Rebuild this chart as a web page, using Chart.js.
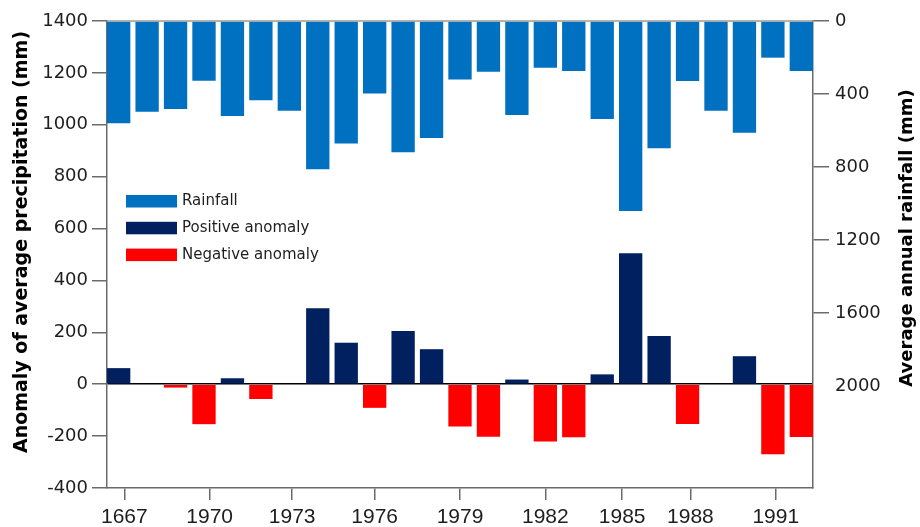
<!DOCTYPE html>
<html>
<head>
<meta charset="utf-8">
<script src="https://cdn.jsdelivr.net/npm/chart.js@4.4.1/dist/chart.umd.min.js"></script>
<style>
  html, body { margin: 0; padding: 0; background: #ffffff; }
  #wrap { width: 920px; height: 527px; }
</style>
</head>
<body>
<div id="wrap"><canvas id="chart" width="920" height="527"></canvas></div>
<script>
// Annual series, one entry per year
const years = [1967, 1968, 1969, 1970, 1971, 1972, 1973, 1974, 1975, 1976, 1977, 1978, 1979,
               1980, 1981, 1982, 1983, 1984, 1985, 1986, 1987, 1988, 1989, 1990, 1991];
// Average annual rainfall (mm), right axis
const rainfall = [561, 497, 482, 327, 521, 435, 492, 813, 671, 398, 720, 641, 320,
                  278, 515, 256, 274, 537, 1042, 698, 329, 492, 612, 201, 274];
// Anomaly of average precipitation (mm), left axis
const anomaly = [62, 0, -13, -154, 23, -57, 0, 293, 160, -91, 205, 135, -163,
                 -202, 18, -221, -204, 38, 505, 186, -153, 0, 108, -270, -203];

// Year-axis ticks and their labels
const tickYears = [1967.2, 1970.2, 1973.1, 1976.0, 1979.0, 1982.0, 1984.7, 1987.1, 1990.1];
const tickLabels = ['1667', '1970', '1973', '1976', '1979', '1982', '1985', '1988', '1991'];
const rainfallTicks = [0, 400, 800, 1200, 1600, 2000];

const seriesNames = ['Rainfall', 'Positive anomaly', 'Negative anomaly'];
const seriesColors = ['#0070c0', '#002060', '#ff0000'];

const pts = (vals, keep) => years.map((yr, i) => ({ x: yr, y: keep(vals[i]) ? vals[i] : null }));

const AXIS = '#6b6b6b';
const TEXT = '#1e1e1e';

// Frame top edge, rotated axis titles and the in-plot legend
const decorations = {
  id: 'decorations',
  afterDraw(chart) {
    const { ctx, chartArea: a } = chart;
    ctx.save();
    ctx.strokeStyle = '#9a9a9a';
    ctx.lineWidth = 1.5;
    ctx.beginPath();
    ctx.moveTo(a.left, a.top);
    ctx.lineTo(a.right, a.top);
    ctx.stroke();

    ctx.fillStyle = '#000000';
    ctx.textAlign = 'center';
    ctx.textBaseline = 'alphabetic';
    ctx.font = 'bold 19px "DejaVu Sans"';
    ctx.save();
    ctx.translate(27, 242);
    ctx.rotate(-Math.PI / 2);
    ctx.fillText('Anomaly of average precipitation (mm)', 0, 0);
    ctx.restore();
    ctx.font = 'bold 18px "DejaVu Sans"';
    ctx.save();
    ctx.translate(912, 238);
    ctx.rotate(-Math.PI / 2);
    ctx.fillText('Average annual rainfall (mm)', 0, 0);
    ctx.restore();

    ctx.font = '15px "DejaVu Sans"';
    ctx.textAlign = 'left';
    ctx.textBaseline = 'middle';
    chart.data.datasets.forEach((ds, i) => {
      const y = 195 + i * 26.8;
      ctx.fillStyle = ds.backgroundColor;
      ctx.fillRect(126, y, 51, 12.5);
      ctx.fillStyle = TEXT;
      ctx.fillText(ds.label, 182, y + 6.5);
    });
    ctx.restore();
  }
};

new Chart(document.getElementById('chart'), {
  type: 'bar',
  data: {
    datasets: [
      { label: seriesNames[0], data: pts(rainfall, v => true), yAxisID: 'y2',
        backgroundColor: seriesColors[0] },
      { label: seriesNames[1], data: pts(anomaly, v => v > 0), yAxisID: 'y',
        backgroundColor: seriesColors[1] },
      { label: seriesNames[2], data: pts(anomaly, v => v < 0), yAxisID: 'y',
        backgroundColor: seriesColors[2] }
    ]
  },
  options: {
    responsive: false,
    animation: false,
    devicePixelRatio: 1,
    datasets: { bar: { grouped: false, barPercentage: 0.82, categoryPercentage: 1, borderWidth: 0 } },
    layout: { padding: { top: 21, left: 0, right: 0, bottom: 0 } },
    plugins: { legend: { display: false }, tooltip: { enabled: false } },
    scales: {
      x: {
        type: 'linear',
        position: 'bottom',
        offset: false,
        min: 1966.59,
        max: 1991.41,
        afterBuildTicks: s => { s.ticks = tickYears.map(v => ({ value: v })); },
        afterFit: s => { s.height = 39; },
        grid: { offset: false, drawOnChartArea: false, tickLength: 12, color: AXIS, lineWidth: 1.5 },
        border: { color: AXIS, width: 1.5 },
        ticks: {
          autoSkip: false, maxRotation: 0, padding: 5, color: TEXT,
          font: { family: 'Liberation Sans', size: 21 },
          callback: (v, i) => tickLabels[i]
        }
      },
      y: {
        position: 'left',
        min: -400,
        max: 1400,
        afterFit: s => { s.width = 107; },
        grid: {
          drawOnChartArea: true,
          color: c => (c.tick && c.tick.value === 0) ? '#000000' : 'rgba(0,0,0,0)',
          tickColor: AXIS,
          lineWidth: 1.5,
          tickLength: 15
        },
        border: { color: AXIS, width: 1.5 },
        ticks: {
          stepSize: 200, padding: 4, color: TEXT,
          font: { family: 'DejaVu Sans', size: 18 },
          callback: v => String(v)
        }
      },
      y2: {
        position: 'right',
        reverse: true,
        min: 0,
        max: 2560,
        afterBuildTicks: s => { s.ticks = rainfallTicks.map(v => ({ value: v })); },
        afterFit: s => { s.width = 107; },
        grid: {
          drawOnChartArea: false,
          tickLength: 16,
          lineWidth: 1.5,
          color: AXIS,
          tickColor: c => (c.tick && c.tick.value === 2000) ? 'rgba(0,0,0,0)' : AXIS
        },
        border: { color: AXIS, width: 1.5 },
        ticks: {
          padding: 6, color: TEXT,
          font: { family: 'DejaVu Sans', size: 18 },
          callback: v => String(v)
        }
      }
    }
  },
  plugins: [decorations]
});
</script>
</body>
</html>
